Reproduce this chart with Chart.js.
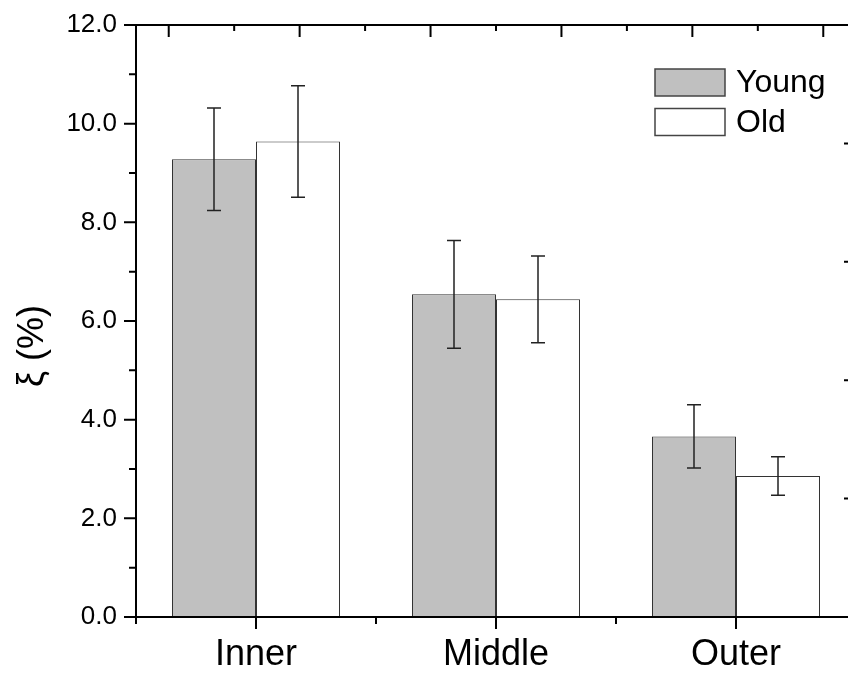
<!DOCTYPE html>
<html>
<head>
<meta charset="utf-8">
<script src="https://cdn.jsdelivr.net/npm/chart.js@4/dist/chart.umd.min.js"></script>
<style>
  html, body { margin: 0; padding: 0; background: #fff; overflow: hidden; }
  canvas { display: block; }
</style>
</head>
<body>
<canvas id="chart" width="870" height="677"></canvas>
<script>
// Groups along the radius and the two age series (mean ± error)
const categories = ['Inner', 'Middle', 'Outer'];
const seriesNames = ['Young', 'Old'];
const youngMeans = [9.28, 6.54, 3.66];
const youngErrors = [1.04, 1.09, 0.64];
const oldMeans = [9.64, 6.44, 2.86];
const oldErrors = [1.13, 0.88, 0.39];
const yTickValues = [0, 2, 4, 6, 8, 10, 12];
const yAxisTitle = 'ξ (%)';

const FONT = "'Liberation Sans', Arial, Helvetica, sans-serif";
const INK = '#000';
const BAR_EDGE = '#333';

const errorsByDataset = [youngErrors, oldErrors];

// Error bars, boxed frame with inward/outward ticks, legend and rotated axis title
const framePlugin = {
  id: 'framePlugin',
  afterDatasetsDraw(chart) {
    const ctx = chart.ctx;
    const y = chart.scales.y;
    ctx.save();
    ctx.strokeStyle = '#222';
    ctx.lineWidth = 1.5;
    chart.data.datasets.forEach((ds, i) => {
      const meta = chart.getDatasetMeta(i);
      const errs = errorsByDataset[i];
      meta.data.forEach((bar, j) => {
        const v = ds.data[j];
        const top = y.getPixelForValue(v + errs[j]);
        const bot = y.getPixelForValue(v - errs[j]);
        const x = bar.x;
        const cap = 7;
        ctx.beginPath();
        ctx.moveTo(x, top); ctx.lineTo(x, bot);
        ctx.moveTo(x - cap, top); ctx.lineTo(x + cap, top);
        ctx.moveTo(x - cap, bot); ctx.lineTo(x + cap, bot);
        ctx.stroke();
      });
    });
    ctx.restore();
  },
  afterDraw(chart) {
    const ctx = chart.ctx;
    const a = chart.chartArea;
    const { x, y, xTop, yRight } = chart.scales;
    ctx.save();
    ctx.strokeStyle = INK;
    ctx.lineWidth = 2;
    ctx.lineCap = 'butt';

    // box
    ctx.beginPath();
    ctx.rect(a.left, a.top, a.right - a.left, a.bottom - a.top);
    ctx.stroke();

    ctx.beginPath();
    // left axis: majors every 2, minors in between (outward)
    for (let v = y.min; v <= y.max; v += 1) {
      const py = y.getPixelForValue(v);
      const len = v % 2 === 0 ? 12 : 7;
      ctx.moveTo(a.left - len, py); ctx.lineTo(a.left, py);
    }
    // bottom axis: major at each group, minor at group boundaries (outward)
    categories.forEach((c, i) => {
      const px = x.getPixelForValue(i);
      ctx.moveTo(px, a.bottom); ctx.lineTo(px, a.bottom + 12);
    });
    for (let i = -0.5; i <= categories.length - 0.5; i += 1) {
      const px = x.getPixelForValue(i);
      ctx.moveTo(px, a.bottom); ctx.lineTo(px, a.bottom + 7);
    }
    // top axis (inward)
    for (let v = xTop.min; v <= xTop.max; v += 1) {
      const px = xTop.getPixelForValue(v);
      const len = v % 2 === 0 ? 12 : 6;
      ctx.moveTo(px, a.top); ctx.lineTo(px, a.top + len);
    }
    // right axis (inward)
    for (let v = yRight.min; v <= yRight.max; v += 1) {
      const py = yRight.getPixelForValue(v);
      ctx.moveTo(a.right, py); ctx.lineTo(a.right - 12, py);
    }
    ctx.stroke();

    // legend
    const lx = 655, ly = 69, boxW = 70, boxH = 27, rowStep = 39.5, gap = 11;
    ctx.font = '32px ' + FONT;
    ctx.textAlign = 'left';
    ctx.textBaseline = 'middle';
    chart.data.datasets.forEach((ds, i) => {
      const by = ly + i * rowStep;
      ctx.fillStyle = ds.backgroundColor;
      ctx.fillRect(lx, by, boxW, boxH);
      ctx.strokeStyle = '#444';
      ctx.lineWidth = 1.5;
      ctx.strokeRect(lx, by, boxW, boxH);
      ctx.fillStyle = INK;
      ctx.fillText(ds.label, lx + boxW + gap, by + boxH / 2 + 1);
    });

    // y axis title
    ctx.save();
    ctx.translate(33, 346);
    ctx.rotate(-Math.PI / 2);
    ctx.font = '36px ' + FONT;
    ctx.textAlign = 'center';
    ctx.textBaseline = 'middle';
    ctx.fillStyle = INK;
    ctx.fillText(yAxisTitle, 0, 0);
    ctx.restore();

    ctx.restore();
  }
};

new Chart(document.getElementById('chart'), {
  type: 'bar',
  data: {
    labels: categories,
    datasets: [
      {
        label: seriesNames[0],
        data: youngMeans,
        backgroundColor: '#c0c0c0',
        borderColor: BAR_EDGE,
        borderWidth: 1,
        borderSkipped: 'bottom'
      },
      {
        label: seriesNames[1],
        data: oldMeans,
        backgroundColor: '#ffffff',
        borderColor: BAR_EDGE,
        borderWidth: 1,
        borderSkipped: 'bottom'
      }
    ]
  },
  options: {
    responsive: false,
    animation: false,
    devicePixelRatio: 1,
    layout: { padding: { top: 25, right: 14, left: 0, bottom: 0 } },
    datasets: { bar: { categoryPercentage: 0.7, barPercentage: 1.0 } },
    plugins: {
      legend: { display: false },
      tooltip: { enabled: false },
      title: { display: false }
    },
    scales: {
      x: {
        type: 'category',
        position: 'bottom',
        offset: true,
        grid: { display: false, drawTicks: false },
        border: { display: false },
        ticks: {
          color: INK,
          padding: 16,
          font: { family: FONT, size: 36 }
        },
        afterFit: s => { s.height = 60; s.paddingLeft = 0; s.paddingRight = 0; }
      },
      y: {
        type: 'linear',
        position: 'left',
        min: 0,
        max: 12,
        grid: { display: false, drawTicks: false },
        border: { display: false },
        afterBuildTicks: s => { s.ticks = yTickValues.map(v => ({ value: v })); },
        ticks: {
          color: INK,
          padding: 19,
          font: { family: FONT, size: 26 },
          callback: v => Number(v).toFixed(1)
        },
        afterFit: s => { s.width = 136; s.paddingTop = 0; s.paddingBottom = 0; }
      },
      xTop: {
        type: 'linear',
        position: 'top',
        display: false,
        min: 0,
        max: 10
      },
      yRight: {
        type: 'linear',
        position: 'right',
        display: false,
        min: 0,
        max: 5
      }
    }
  },
  plugins: [framePlugin]
});
</script>
</body>
</html>
